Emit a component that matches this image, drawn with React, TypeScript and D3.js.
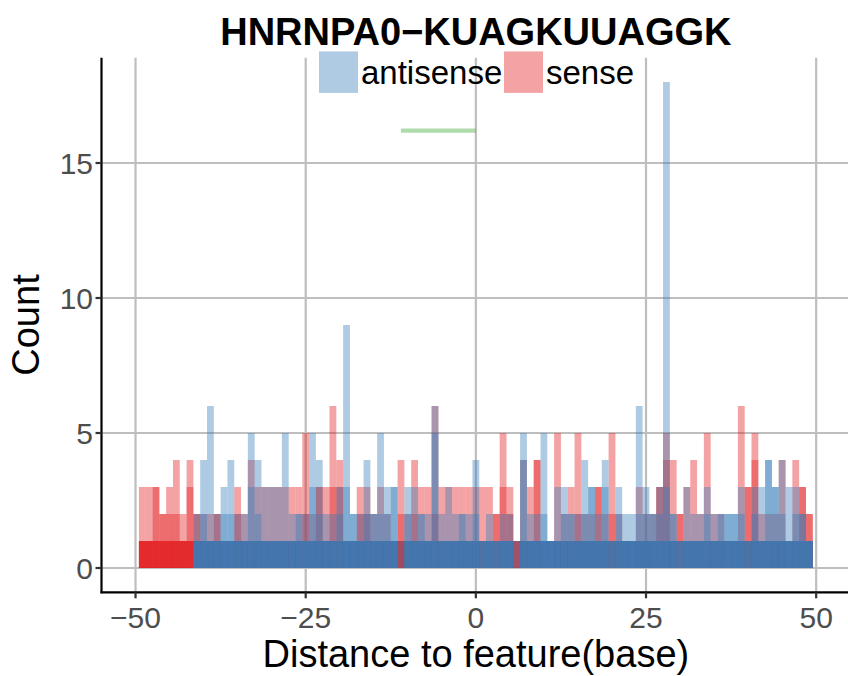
import React from 'react';
import * as d3 from 'd3';

// bin centres (distance to feature, base)
const bins: number[] = d3.range(-49, 50);

// sense (red) — tallest group per bin, and second-tallest group per bin
const senseTop = [
  3, 3, 3, 2, 3, 4, 2, 4, 2, 2,
  2, 2, 1, 1, 3, 2, 4, 3, 3, 3,
  3, 3, 3, 3, 5, 2, 3, 3, 6, 4,
  1, 1, 3, 3, 2, 3, 2, 1, 4, 2,
  4, 3, 3, 6, 3, 3, 3, 3, 3, 3,
  3, 3, 2, 5, 3, 1, 4, 3, 4, 1,
  1, 5, 2, 3, 5, 2, 2, 3, 2, 5,
  2, 1, 1, 3, 2, 2, 3, 5, 4, 2,
  3, 4, 2, 5, 2, 2, 1, 1, 6, 3,
  5, 2, 2, 2, 4, 1, 4, 3, 2,
];
const senseSecond = [
  1, 1, 3, 2, 2, 2, 1, 3, 2, 1,
  1, 2, 0, 0, 2, 1, 1, 1, 1, 1,
  1, 1, 1, 1, 2, 1, 3, 1, 3, 3,
  0, 0, 2, 2, 1, 1, 1, 0, 2, 1,
  2, 1, 1, 2, 1, 1, 1, 1, 1, 1,
  1, 1, 2, 3, 2, 0, 1, 1, 4, 0,
  0, 1, 1, 1, 2, 1, 1, 3, 1, 2,
  1, 0, 0, 1, 1, 1, 3, 4, 1, 2,
  1, 1, 1, 1, 1, 1, 0, 0, 1, 3,
  4, 1, 1, 1, 1, 0, 1, 3, 2,
];

// antisense (blue)
const antisenseTop = [
  0, 0, 0, 0, 0, 0, 0, 0, 2, 4,
  6, 2, 3, 4, 2, 2, 5, 4, 3, 3,
  3, 5, 2, 2, 2, 5, 4, 2, 2, 3,
  9, 2, 2, 4, 2, 5, 3, 3, 1, 3,
  3, 2, 2, 6, 2, 3, 2, 2, 2, 4,
  1, 2, 1, 2, 2, 1, 5, 2, 2, 5,
  1, 3, 3, 2, 2, 4, 3, 2, 4, 1,
  3, 2, 2, 6, 3, 2, 3, 18, 2, 1,
  3, 2, 2, 3, 2, 2, 2, 2, 3, 1,
  3, 3, 4, 3, 4, 3, 3, 2, 1,
];
const antisenseSecond = [
  0, 0, 0, 0, 0, 0, 0, 0, 1, 2,
  1, 1, 2, 2, 1, 1, 3, 2, 1, 1,
  1, 1, 1, 2, 1, 3, 2, 1, 1, 2,
  3, 2, 1, 2, 2, 2, 2, 3, 0, 2,
  1, 2, 1, 5, 1, 1, 1, 2, 1, 2,
  0, 1, 0, 1, 1, 0, 4, 1, 1, 2,
  1, 1, 2, 2, 1, 2, 3, 1, 3, 0,
  2, 1, 1, 2, 2, 2, 2, 3, 2, 0,
  1, 1, 1, 2, 1, 2, 2, 2, 2, 0,
  2, 1, 4, 3, 2, 1, 2, 2, 1,
];
// additional single-count groups stacked in the 0–1 band
const senseOnes = 3;
const antisenseOnes = 3;
const antisenseThinBins = [-11, 6];

const xTicks = [-50, -25, 0, 25, 50];
const yTicks = [0, 5, 10, 15];
const motifRange = [-11, 0];
const motifY = 16.2;
const seriesNames = ['antisense', 'sense'];
const seriesColors = ['#377EB8', '#E41A1C'];

const FONT = '"Liberation Sans", Arial, Helvetica, sans-serif';

export default function App() {
  const W = 848;
  const H = 676;
  const x = d3.scaleLinear().domain([-55, 55]).range([101.5, 850.2]);
  const y = d3.scaleLinear().domain([-0.9, 18.9]).range([592.3, 57.7]);
  const [pl, pr] = x.range();
  const [pb, pt] = y.range();
  const fmt = (v: number) => String(v).replace('-', '\u2212');

  type R = { c: number; h: number; color: string; key: string };
  const rects: R[] = [];
  const addSeries = (
    name: string,
    color: string,
    top: number[],
    second: number[],
    ones: number,
    thin: number[]
  ) => {
    bins.forEach((c, i) => {
      if (top[i] > 0) rects.push({ c, h: top[i], color, key: `${name}-t-${c}` });
    });
    bins.forEach((c, i) => {
      if (second[i] > 0) rects.push({ c, h: second[i], color, key: `${name}-s-${c}` });
    });
    for (let k = 0; k < ones; k++) {
      bins.forEach((c, i) => {
        if (top[i] > 0 && !thin.includes(c))
          rects.push({ c, h: 1, color, key: `${name}-o${k}-${c}` });
      });
    }
  };
  addSeries('sense', seriesColors[1], senseTop, senseSecond, senseOnes, []);
  addSeries('antisense', seriesColors[0], antisenseTop, antisenseSecond, antisenseOnes, antisenseThinBins);

  const legendItems = [
    { label: seriesNames[0], color: seriesColors[0], kx: 319, tx: 361 },
    { label: seriesNames[1], color: seriesColors[1], kx: 504, tx: 546 },
  ];

  return (
    <svg
      width={W}
      height={H}
      style={{ position: 'absolute', left: 0, top: 0, background: '#fff' }}
      fontFamily={FONT}
    >
      <rect x={0} y={0} width={W} height={H} fill="#fff" />
      {/* grid */}
      {yTicks.map((t) => (
        <line key={`gy${t}`} x1={pl} x2={pr} y1={y(t)} y2={y(t)} stroke="#BEBEBE" strokeWidth={2.2} />
      ))}
      {xTicks.map((t) => (
        <line key={`gx${t}`} x1={x(t)} x2={x(t)} y1={pt} y2={pb} stroke="#BEBEBE" strokeWidth={2.2} />
      ))}
      {/* bars */}
      {rects.map((r) => (
        <rect
          key={r.key}
          x={x(r.c - 0.5)}
          width={x(r.c + 0.5) - x(r.c - 0.5)}
          y={y(r.h)}
          height={y(0) - y(r.h)}
          fill={r.color}
          fillOpacity={0.4}
        />
      ))}
      {/* motif segment */}
      <line
        x1={x(motifRange[0])}
        x2={x(motifRange[1])}
        y1={y(motifY)}
        y2={y(motifY)}
        stroke="#4DAF4A"
        strokeOpacity={0.45}
        strokeWidth={4.3}
      />
      {/* axes */}
      <line x1={pl} x2={pl} y1={pt} y2={pb + 1} stroke="#000" strokeWidth={2.2} />
      <line x1={pl - 1} x2={pr} y1={pb} y2={pb} stroke="#000" strokeWidth={2.2} />
      {xTicks.map((t) => (
        <g key={`xt${t}`}>
          <line x1={x(t)} x2={x(t)} y1={pb} y2={pb + 6} stroke="#333" strokeWidth={2.2} />
          <text x={x(t)} y={628} textAnchor="middle" fontSize={30} fill="#4D4D4D">
            {fmt(t)}
          </text>
        </g>
      ))}
      {yTicks.map((t) => (
        <g key={`yt${t}`}>
          <line x1={pl - 6} x2={pl} y1={y(t)} y2={y(t)} stroke="#333" strokeWidth={2.2} />
          <text x={93} y={y(t) + 10.7} textAnchor="end" fontSize={30} fill="#4D4D4D">
            {fmt(t)}
          </text>
        </g>
      ))}
      {/* titles */}
      <text x={x(0)} y={44.5} textAnchor="middle" fontSize={38} fontWeight="bold" fill="#000">
        HNRNPA0{'\u2212'}KUAGKUUAGGK
      </text>
      <text x={x(0)} y={667} textAnchor="middle" fontSize={38} fill="#000">
        Distance to feature(base)
      </text>
      <text transform={`translate(39,${(pt + pb) / 2}) rotate(-90)`} textAnchor="middle" fontSize={38} fill="#000">
        Count
      </text>
      {/* legend */}
      {legendItems.map((it) => (
        <g key={it.label}>
          <rect x={it.kx} y={51.4} width={39} height={41.5} fill={it.color} fillOpacity={0.4} />
          <text x={it.tx} y={84} fontSize={33} fill="#000">
            {it.label}
          </text>
        </g>
      ))}
    </svg>
  );
}
